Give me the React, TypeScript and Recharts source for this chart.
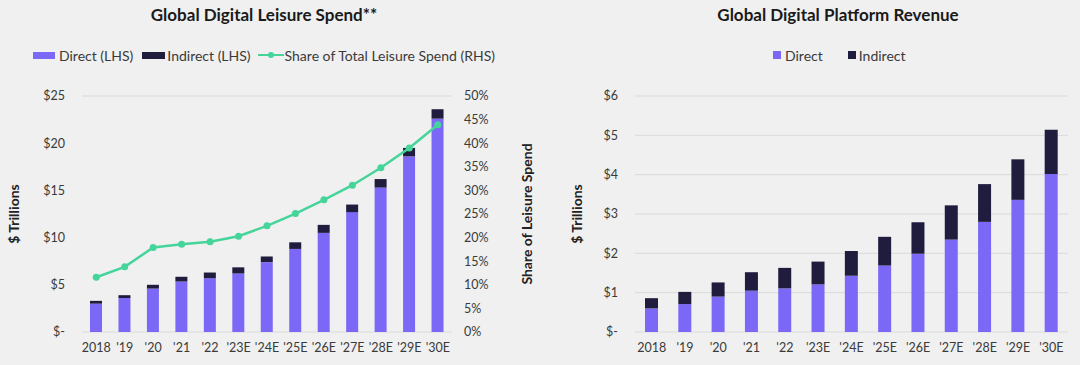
import React from 'react';
import { ComposedChart, Bar, Line, XAxis, YAxis, CartesianGrid } from 'recharts';

const categories = ['2018', "'19", "'20", "'21", "'22", "'23E", "'24E", "'25E", "'26E", "'27E", "'28E", "'29E", "'30E"];
const leisureDirect = [3.0, 3.6, 4.6, 5.35, 5.7, 6.2, 7.4, 8.8, 10.5, 12.7, 15.3, 18.6, 22.6];
const leisureIndirect = [0.3, 0.3, 0.4, 0.5, 0.6, 0.65, 0.6, 0.7, 0.85, 0.8, 0.9, 0.9, 1.0];
const leisureShare = [11.6, 13.8, 17.9, 18.6, 19.1, 20.3, 22.5, 25.1, 28.0, 31.1, 34.8, 39.0, 43.9];
const platformDirect = [0.6, 0.71, 0.9, 1.05, 1.11, 1.21, 1.43, 1.69, 1.99, 2.35, 2.8, 3.36, 4.02];
const platformIndirect = [0.26, 0.31, 0.36, 0.47, 0.52, 0.58, 0.63, 0.73, 0.8, 0.87, 0.96, 1.03, 1.12];

const leftTicks = [0, 5, 10, 15, 20, 25];
const shareTicks = [0, 5, 10, 15, 20, 25, 30, 35, 40, 45, 50];
const rightTicks = [0, 1, 2, 3, 4, 5, 6];

const leftTitle = 'Global Digital Leisure Spend**';
const rightTitle = 'Global Digital Platform Revenue';
const leftLegend = ['Direct (LHS)', 'Indirect (LHS)', 'Share of Total Leisure Spend (RHS)'];
const rightLegend = ['Direct', 'Indirect'];

const C_DIRECT = '#7b68f6';
const C_INDIRECT = '#1f1c3d';
const C_LINE = '#45d49a';
const FONT = 'Lato, "Open Sans", sans-serif';
const TEXT = '#3a3a3a';

const leisureData = categories.map((c, i) => ({
  cat: c,
  direct: leisureDirect[i],
  indirect: leisureIndirect[i],
  share: leisureShare[i],
}));
const platformData = categories.map((c, i) => ({
  cat: c,
  direct: platformDirect[i],
  indirect: platformIndirect[i],
}));

const dollar = (v: number) => (v === 0 ? '$-' : `$${v}`);
const pct = (v: number) => `${v}%`;
const tickStyle = { fill: TEXT, fontSize: 12.5, fontFamily: FONT };

const vLabel = (text: string, dx: number) => (props: any) => {
  const vb = props.viewBox || {};
  const x = vb.x + dx;
  const y = vb.y + vb.height / 2;
  return (
    <text x={x} y={y} transform={`rotate(-90 ${x} ${y})`} textAnchor="middle" dominantBaseline="central"
      style={{ fontFamily: FONT, fontSize: 14, fontWeight: 700, fill: '#222' }}>
      {text}
    </text>
  );
};

const Title = ({ text, cx }: { text: string; cx: number }) => (
  <div style={{ position: 'absolute', left: cx - 200, width: 400, top: 4, textAlign: 'center', fontFamily: FONT, fontWeight: 700, fontSize: 17, color: '#1a1a1a' }}>
    {text}
  </div>
);

export default function App() {
  return (
    <div style={{ position: 'fixed', left: 0, top: 0, width: 1080, height: 365, background: '#f0f0f0', overflow: 'hidden' }}>
      <Title text={leftTitle} cx={264} />
      <Title text={rightTitle} cx={838} />

      <div style={{ position: 'absolute', left: 33, top: 46, height: 18, display: 'flex', alignItems: 'center', fontFamily: FONT, fontSize: 14, color: TEXT, whiteSpace: 'nowrap' }}>
        <span style={{ display: 'inline-block', width: 22, height: 7, background: C_DIRECT, marginRight: 4 }} />
        <span style={{ marginRight: 9 }}>{leftLegend[0]}</span>
        <span style={{ display: 'inline-block', width: 23, height: 7, background: C_INDIRECT, marginRight: 2 }} />
        <span style={{ marginRight: 7 }}>{leftLegend[1]}</span>
        <svg width={26} height={10} style={{ marginRight: 1 }}>
          <line x1={0} y1={5} x2={26} y2={5} stroke={C_LINE} strokeWidth={2} />
          <circle cx={13} cy={5} r={3} fill={C_LINE} />
        </svg>
        <span>{leftLegend[2]}</span>
      </div>

      <div style={{ position: 'absolute', left: 773, top: 46, height: 18, display: 'flex', alignItems: 'center', fontFamily: FONT, fontSize: 14, color: TEXT, whiteSpace: 'nowrap' }}>
        <span style={{ display: 'inline-block', width: 8, height: 8, background: C_DIRECT, marginRight: 4 }} />
        <span style={{ marginRight: 25 }}>{rightLegend[0]}</span>
        <span style={{ display: 'inline-block', width: 8, height: 8, background: C_INDIRECT, marginRight: 3 }} />
        <span>{rightLegend[1]}</span>
      </div>

      <div style={{ position: 'absolute', left: 0, top: 0 }}>
        <ComposedChart width={540} height={365} data={leisureData} margin={{ top: 96, right: 0, bottom: 0, left: 0 }}>
          <CartesianGrid vertical={false} stroke="#dadada" strokeWidth={1} />
          <XAxis dataKey="cat" interval={0} axisLine={false} tickLine={false} tickSize={0} tickMargin={11} height={33} tick={tickStyle} />
          <YAxis yAxisId="left" domain={[0, 25]} ticks={leftTicks} tickFormatter={dollar} width={82} axisLine={false} tickLine={false} tickSize={0} tickMargin={17} tick={tickStyle} label={vLabel('$ Trillions', 13)} />
          <YAxis yAxisId="right" orientation="right" domain={[0, 50]} ticks={shareTicks} tickFormatter={pct} width={88} axisLine={false} tickLine={false} tickSize={0} tickMargin={12} tick={{ ...tickStyle, textAnchor: 'start' }} label={vLabel('Share of Leisure Spend', 74)} />
          <Bar yAxisId="left" dataKey="direct" stackId="a" fill={C_DIRECT} barSize={12} isAnimationActive={false} />
          <Bar yAxisId="left" dataKey="indirect" stackId="a" fill={C_INDIRECT} barSize={12} isAnimationActive={false} />
          <Line yAxisId="right" dataKey="share" stroke={C_LINE} strokeWidth={2.5} dot={{ r: 3.5, fill: C_LINE, stroke: C_LINE, strokeWidth: 0 }} isAnimationActive={false} />
        </ComposedChart>
      </div>

      <div style={{ position: 'absolute', left: 540, top: 0 }}>
        <ComposedChart width={540} height={365} data={platformData} margin={{ top: 96, right: 12, bottom: 0, left: 0 }}>
          <CartesianGrid vertical={false} stroke="#dadada" strokeWidth={1} />
          <XAxis dataKey="cat" interval={0} axisLine={false} tickLine={false} tickSize={0} tickMargin={11} height={33} tick={tickStyle} />
          <YAxis domain={[0, 6]} ticks={rightTicks} tickFormatter={dollar} width={95} axisLine={false} tickLine={false} tickSize={0} tickMargin={17} tick={tickStyle} label={vLabel('$ Trillions', 36)} />
          <Bar dataKey="direct" stackId="a" fill={C_DIRECT} barSize={13} isAnimationActive={false} />
          <Bar dataKey="indirect" stackId="a" fill={C_INDIRECT} barSize={13} isAnimationActive={false} />
        </ComposedChart>
      </div>
    </div>
  );
}
